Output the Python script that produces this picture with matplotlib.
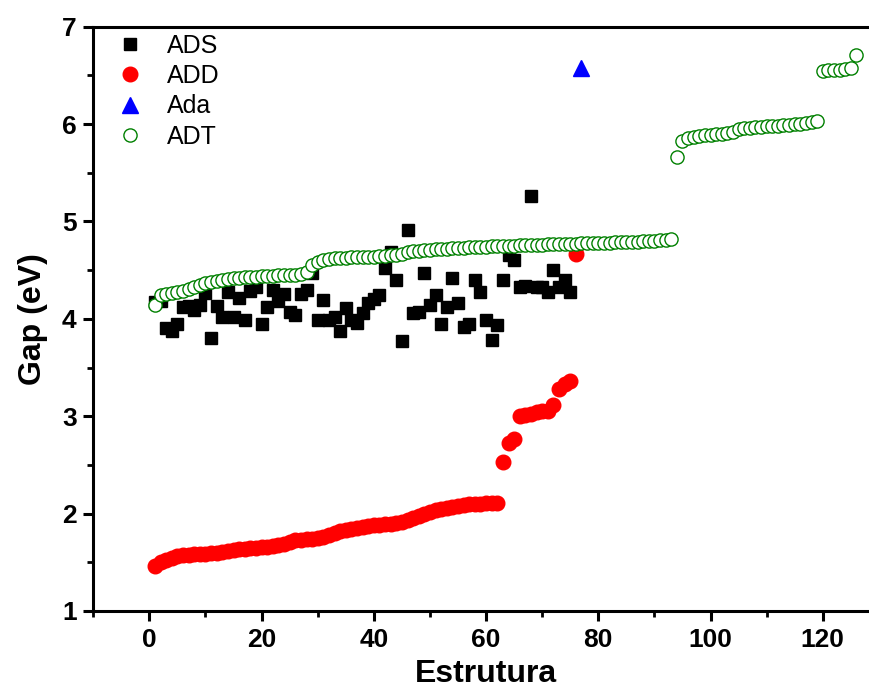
import matplotlib.pyplot as plt
from matplotlib.ticker import MultipleLocator

plt.rcParams['font.family'] = ['Liberation Sans', 'DejaVu Sans']

# ADS (black squares), x = 1..75
ads_x = list(range(1, 76))
ads_y = [4.17, 4.18, 3.91, 3.87, 3.95, 4.12, 4.13, 4.09, 4.14, 4.27,
         3.80, 4.13, 4.02, 4.28, 4.02, 4.21, 3.99, 4.29, 4.33, 3.95,
         4.12, 4.30, 4.18, 4.26, 4.07, 4.04, 4.26, 4.30, 4.47, 3.99,
         4.19, 3.99, 4.02, 3.87, 4.11, 3.99, 3.96, 4.06, 4.16, 4.20,
         4.24, 4.52, 4.69, 4.40, 3.77, 4.91, 4.06, 4.07, 4.47, 4.14,
         4.24, 3.95, 4.12, 4.42, 4.16, 3.92, 3.95, 4.40, 4.28, 3.99,
         3.78, 3.94, 4.40, 4.66, 4.60, 4.33, 4.34, 5.26, 4.33, 4.33,
         4.28, 4.50, 4.33, 4.40, 4.28]

# ADD (red circles), x = 1..76
add_x = list(range(1, 77))
add_y = [1.46, 1.50, 1.52, 1.54, 1.56, 1.57, 1.57, 1.58, 1.58, 1.59,
         1.60, 1.60, 1.61, 1.62, 1.63, 1.64, 1.64, 1.65, 1.65, 1.66,
         1.66, 1.67, 1.68, 1.69, 1.71, 1.73, 1.73, 1.74, 1.74, 1.75,
         1.76, 1.78, 1.80, 1.82, 1.83, 1.84, 1.85, 1.86, 1.87, 1.88,
         1.88, 1.89, 1.89, 1.90, 1.91, 1.93, 1.95, 1.98, 2.00, 2.02,
         2.04, 2.05, 2.06, 2.07, 2.08, 2.09, 2.10, 2.10, 2.10, 2.11,
         2.11, 2.11, 2.53, 2.72, 2.77, 3.00, 3.01, 3.02, 3.04, 3.05,
         3.05, 3.12, 3.28, 3.33, 3.36, 4.67]

# Ada (blue triangle)
ada_x = [77]
ada_y = [6.58]

# ADT (green open circles), x = 1..126
adt_x = list(range(1, 127))
adt_y = [4.14, 4.24, 4.26, 4.27, 4.28, 4.29, 4.31, 4.33, 4.35, 4.37,
         4.38, 4.39, 4.40, 4.41, 4.42, 4.42, 4.43, 4.43, 4.43, 4.44,
         4.44, 4.44, 4.45, 4.45, 4.45, 4.45, 4.46, 4.48, 4.55, 4.58,
         4.60, 4.61, 4.62, 4.62, 4.62, 4.63, 4.63, 4.63, 4.64, 4.64,
         4.65, 4.65, 4.66, 4.66, 4.67, 4.69, 4.70, 4.70, 4.71, 4.71,
         4.72, 4.72, 4.72, 4.73, 4.73, 4.73, 4.74, 4.74, 4.74, 4.74,
         4.75, 4.75, 4.75, 4.75, 4.75, 4.76, 4.76, 4.76, 4.76, 4.76,
         4.77, 4.77, 4.77, 4.77, 4.77, 4.77, 4.78, 4.78, 4.78, 4.78,
         4.78, 4.78, 4.79, 4.79, 4.79, 4.79, 4.79, 4.80, 4.80, 4.80,
         4.81, 4.81, 4.82,
         5.66, 5.83, 5.86, 5.87, 5.88, 5.89, 5.89, 5.90, 5.90, 5.91,
         5.92, 5.95, 5.96, 5.96, 5.97, 5.97, 5.98, 5.98, 5.98, 5.99,
         5.99, 6.00, 6.00, 6.01, 6.02, 6.03,
         6.54, 6.55, 6.55, 6.56, 6.57, 6.58, 6.71]

fig = plt.figure(figsize=(8.7, 6.91), dpi=100)
ax = fig.add_axes([0.1072, 0.1158, 0.903, 0.8456])

ax.plot(ads_x, ads_y, 's', color='black', markersize=8.8, label='ADS', zorder=3)
ax.plot(add_x, add_y, 'o', color='#ff0000', markersize=10.5, label='ADD', zorder=3)
ax.plot(ada_x, ada_y, '^', color='#0000ff', markersize=11, label='Ada', zorder=3)
ax.plot(adt_x, adt_y, 'o', markerfacecolor='white', markeredgecolor='#008000',
        markeredgewidth=1.0, markersize=9.5, label='ADT', zorder=4)

ax.set_xlim(-10, 130)
ax.set_ylim(1, 7)
ax.xaxis.set_major_locator(MultipleLocator(20))
ax.xaxis.set_minor_locator(MultipleLocator(10))
ax.yaxis.set_major_locator(MultipleLocator(1))
ax.yaxis.set_minor_locator(MultipleLocator(0.5))

for s in ax.spines.values():
    s.set_linewidth(2.2)

ax.tick_params(which='major', direction='out', length=7, width=2.2, labelsize=19, pad=5)
ax.tick_params(which='minor', direction='out', length=4, width=2.0)
for lab in ax.get_xticklabels() + ax.get_yticklabels():
    lab.set_fontweight('bold')

ax.set_xlabel('Estrutura', fontsize=23, fontweight='bold', labelpad=5)
ax.set_ylabel('Gap (eV)', fontsize=23, fontweight='bold', labelpad=10)

ax.legend(loc='upper left', frameon=False, fontsize=18, labelspacing=0.25,
          handlelength=1.0, handletextpad=1.0, borderaxespad=0.0,
          bbox_to_anchor=(0.018, 1.005))

fig.savefig('out.png', dpi=100)
